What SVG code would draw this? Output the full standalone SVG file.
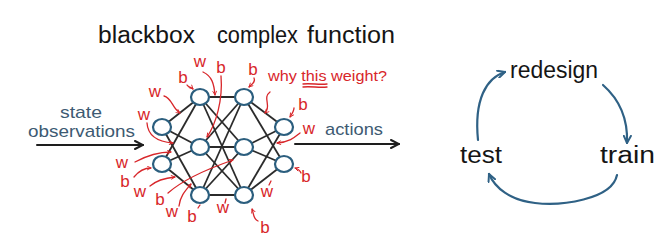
<svg xmlns="http://www.w3.org/2000/svg" width="670" height="245" viewBox="0 0 670 245">
<style>
.t{font-family:"Liberation Sans",Arial,sans-serif;}
.title{font-size:23px;fill:#151515;}
.blue{font-size:17px;fill:#3d5a72;}
.red{font-size:17px;fill:#d8262a;}
.why{font-size:15px;fill:#d8262a;}
.cyc{font-size:23px;fill:#151515;}
.edge{stroke:#2b2b2b;stroke-width:1.8;fill:none;}
.node{fill:#fff;stroke:#2b5e7e;stroke-width:2.2;}
.rc{stroke:#d8262a;stroke-width:1.3;fill:none;stroke-linecap:round;}
.bk{stroke:#1e1e1e;stroke-width:2;fill:none;stroke-linecap:round;}
.bl{stroke:#2f6185;stroke-width:2.2;fill:none;stroke-linecap:round;}
</style>
<defs>
<marker id="rh" viewBox="0 0 10 10" refX="9" refY="5" markerWidth="5" markerHeight="5" markerUnits="userSpaceOnUse" orient="auto">
<path d="M1,1 L9,5 L1,9" fill="none" stroke="#d8262a" stroke-width="1.8"/>
</marker>
<marker id="bh" viewBox="0 0 10 10" refX="9" refY="5" markerWidth="10" markerHeight="10" markerUnits="userSpaceOnUse" orient="auto">
<path d="M1,1 L9,5 L1,9" fill="none" stroke="#1e1e1e" stroke-width="2" stroke-linecap="round"/>
</marker>
<marker id="ch" viewBox="0 0 10 10" refX="9" refY="5" markerWidth="9" markerHeight="9" markerUnits="userSpaceOnUse" orient="auto">
<path d="M1,1 L9,5 L1,9" fill="none" stroke="#2f6185" stroke-width="2.2" stroke-linecap="round"/>
</marker>
</defs>

<g id="title">
<text class="t title" x="98" y="43" textLength="97" lengthAdjust="spacingAndGlyphs">blackbox</text>
<text class="t title" x="217" y="43" textLength="81" lengthAdjust="spacingAndGlyphs">complex</text>
<text class="t title" x="307" y="43" textLength="88" lengthAdjust="spacingAndGlyphs">function</text>
</g>

<g id="connectors">
<g class="edge">
<line x1="162" y1="127" x2="200" y2="97"/><line x1="162" y1="127" x2="200" y2="147"/><line x1="162" y1="127" x2="200" y2="195"/>
<line x1="162" y1="164" x2="200" y2="97"/><line x1="162" y1="164" x2="200" y2="147"/><line x1="162" y1="164" x2="200" y2="195"/>
<line x1="200" y1="97" x2="244" y2="97"/><line x1="200" y1="97" x2="244" y2="147"/><line x1="200" y1="97" x2="244" y2="195"/>
<line x1="200" y1="147" x2="244" y2="97"/><line x1="200" y1="147" x2="244" y2="147"/><line x1="200" y1="147" x2="244" y2="195"/>
<line x1="200" y1="195" x2="244" y2="97"/><line x1="200" y1="195" x2="244" y2="147"/><line x1="200" y1="195" x2="244" y2="195"/>
<line x1="244" y1="97" x2="284" y2="127"/><line x1="244" y1="97" x2="284" y2="164"/>
<line x1="244" y1="147" x2="284" y2="127"/><line x1="244" y1="147" x2="284" y2="164"/>
<line x1="244" y1="195" x2="284" y2="127"/><line x1="244" y1="195" x2="284" y2="164"/>
</g>
<path class="bk" d="M37,145 L143,145" marker-end="url(#bh)"/>
<path class="bk" d="M295,144 L399,144" marker-end="url(#bh)"/>
<path class="rc" d="M203,72 C212,76 214,84 215,95" marker-end="url(#rh)"/>
<path class="rc" d="M221,76 C223,100 216,124 207,137" marker-end="url(#rh)"/>
<path class="rc" d="M187,85 C189,88 190,86 193,89" marker-end="url(#rh)"/>
<path class="rc" d="M254,78 C256,82 252,84 249,87" marker-end="url(#rh)"/>
<path class="rc" d="M164,96 C172,98 172,108 180,113" marker-end="url(#rh)"/>
<path class="rc" d="M147,123 C148,138 160,142 173,143" marker-end="url(#rh)"/>
<path class="rc" d="M270,92 C262,98 272,106 265,113" marker-end="url(#rh)"/>
<path class="rc" d="M294,108 C294,111 292,114 290,117" marker-end="url(#rh)"/>
<path class="rc" d="M300,133 C295,137 290,142 277,143" marker-end="url(#rh)"/>
<path class="rc" d="M135,162 C148,155 158,152 171,152" marker-end="url(#rh)"/>
<path class="rc" d="M134,177 C138,172 144,168 151,168" marker-end="url(#rh)"/>
<path class="rc" d="M150,186 C157,180 165,178 175,177" marker-end="url(#rh)"/>
<path class="rc" d="M168,193 C185,178 210,168 233,160" marker-end="url(#rh)"/>
<path class="rc" d="M179,206 C180,196 186,190 191,184" marker-end="url(#rh)"/>
<path class="rc" d="M198,208 L200,205"/>
<path class="rc" d="M225,203 L226,199"/>
<path class="rc" d="M269,185 L271,181"/>
<path class="rc" d="M301,173 C300,170 298,169 295,168" marker-end="url(#rh)"/>
<path class="rc" d="M258,221 C253,219 254,214 252,209" marker-end="url(#rh)"/>
<path class="rc" d="M303,84 C311,83 319,85 327,84"/>
<path class="rc" d="M303,87 C311,86 319,88 327,87"/>
<path class="bl" d="M478,140 C474,100 486,78 505,72" marker-end="url(#ch)"/>
<path class="bl" d="M603,85 C620,100 628,120 627,143" marker-end="url(#ch)"/>
<path class="bl" d="M617,175 C612,200 560,206 535,203 C510,200 495,188 489,174" marker-end="url(#ch)"/>
</g>

<g id="nodes">
<g id="in1"><ellipse class="node" cx="162" cy="127" rx="9" ry="8"/></g>
<g id="in2"><ellipse class="node" cx="162" cy="164" rx="9" ry="8"/></g>
<g id="h1a"><ellipse class="node" cx="200" cy="97" rx="9" ry="8"/></g>
<g id="h1b"><ellipse class="node" cx="200" cy="147" rx="9" ry="8"/></g>
<g id="h1c"><ellipse class="node" cx="200" cy="195" rx="9" ry="8"/></g>
<g id="h2a"><ellipse class="node" cx="244" cy="97" rx="9" ry="8"/></g>
<g id="h2b"><ellipse class="node" cx="244" cy="147" rx="9" ry="8"/></g>
<g id="h2c"><ellipse class="node" cx="244" cy="195" rx="9" ry="8"/></g>
<g id="out1"><ellipse class="node" cx="284" cy="127" rx="9" ry="8"/></g>
<g id="out2"><ellipse class="node" cx="284" cy="164" rx="9" ry="8"/></g>
</g>

<g id="labels">
<text class="t blue" x="81" y="118" text-anchor="middle" textLength="42" lengthAdjust="spacingAndGlyphs">state</text>
<text class="t blue" x="28" y="137" textLength="107" lengthAdjust="spacingAndGlyphs">observations</text>
<text class="t blue" x="325" y="135" textLength="58" lengthAdjust="spacingAndGlyphs">actions</text>
<g class="t red" text-anchor="middle">
<text x="200" y="67">w</text>
<text x="221" y="73">b</text>
<text x="183" y="83">b</text>
<text x="253" y="75">b</text>
<text x="155" y="97">w</text>
<text x="144" y="120">w</text>
<text x="303" y="110">b</text>
<text x="309" y="134">w</text>
<text x="122" y="168">w</text>
<text x="125" y="187">b</text>
<text x="140" y="197">w</text>
<text x="160" y="205">b</text>
<text x="172" y="217">w</text>
<text x="192" y="222">b</text>
<text x="223" y="213">w</text>
<text x="267" y="197">w</text>
<text x="306" y="182">b</text>
<text x="265" y="233">b</text>
</g>
<text class="t why" x="268" y="81" textLength="119" lengthAdjust="spacingAndGlyphs">why this weight?</text>
</g>

<g id="redesign"><text class="t cyc" x="510" y="78" textLength="88" lengthAdjust="spacingAndGlyphs">redesign</text></g>
<g id="train"><text class="t cyc" x="600" y="163" textLength="55" lengthAdjust="spacingAndGlyphs">train</text></g>
<g id="test"><text class="t cyc" x="460" y="163" textLength="42" lengthAdjust="spacingAndGlyphs">test</text></g>
</svg>
